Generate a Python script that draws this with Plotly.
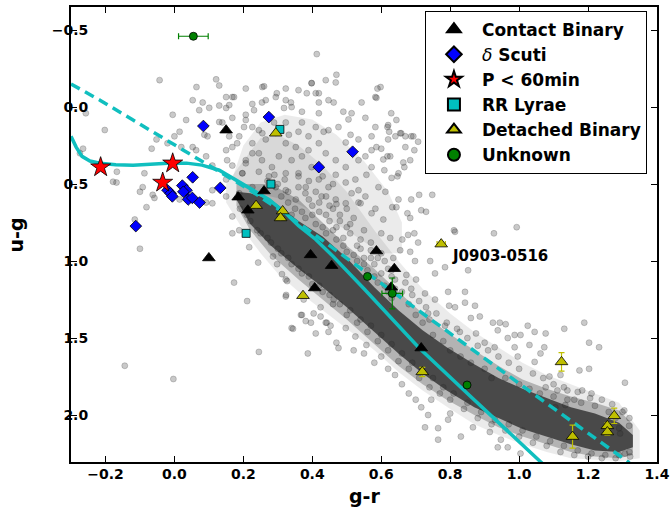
import plotly.graph_objects as go

# ---------------- background field objects ----------------
field_left = [(0.413,-0.344),(-0.043,-0.175),(0.121,-0.18),(0.064,-0.13),(0.207,-0.12),(0.255,-0.13),
    (0.053,-0.045),(0.082,-0.03),(0.101,0.005),(0.15,-0.065),(0.168,-0.065),(0.13,-0.01),(0.159,-0.013),
    (0.072,0.02),(-0.202,0.149),(-0.257,0.04),(-0.274,0.30),(-0.265,0.27),(-0.167,0.42),(-0.178,0.485),
    (-0.168,0.49),(-0.087,0.43),(-0.066,0.27),(-0.052,0.21),(-0.02,0.235),(0.0,0.19),(0.015,0.16),
    (0.02,0.26),(0.053,0.26),(0.087,0.18),(0.092,0.32),(0.063,0.28),(-0.092,0.52),(-0.10,0.55),
    (-0.058,0.59),(-0.081,0.65),(-0.063,0.57),(0.015,0.60),(0.092,0.62),(0.11,0.625),(0.11,0.54),
    (0.15,0.58),(0.11,0.38),(0.168,0.38),(0.197,0.43),(0.15,0.47),(0.168,0.71),(0.188,0.80),(0.168,0.82),
    (0.217,0.91),(-0.10,0.92),(-0.115,0.73),(0.13,0.097),(0.096,0.19),(0.034,0.084),(-0.005,0.05),
    (0.207,0.084),(0.226,-0.02),(0.265,-0.045),(0.294,-0.065),(0.323,-0.045),(0.34,0.0),(0.36,-0.11),
    (0.398,-0.156),(0.419,-0.09),(0.447,-0.045),(0.439,-0.175),(0.188,0.19),(0.226,0.235),(0.245,0.30),
    (0.168,0.26),(0.207,0.345),(0.255,0.17),(0.226,0.13)]

field_lowleft = [(-0.144,1.68),(-0.003,1.766),(0.245,1.59),(0.387,1.60),(0.173,1.14),(0.211,1.26),
    (0.243,1.01),(0.344,1.44),(0.37,1.35),(0.381,1.39),(0.324,1.22),(0.327,1.13),(0.312,1.085),
    (0.298,1.02),(0.286,0.97),(0.404,1.34),(0.424,1.36),(0.442,1.40),(0.453,1.42),(0.323,1.12),
    (0.34,1.435),(0.367,1.35),(0.396,1.40),(0.424,1.30),(0.439,1.40),(0.41,1.47),(0.47,1.53),
    (0.476,1.565),(0.525,1.49),(0.462,1.25),(0.375,1.25),(0.323,1.23),(0.447,1.46),(0.497,1.435),
    (0.557,1.545),(0.60,1.62),(0.62,1.70),(0.58,1.66),(0.66,1.80),(0.64,1.74),(0.55,1.60),(0.52,1.58),
    (0.68,1.86),(0.70,1.90)]

field_upright = [(0.589,-0.12),(0.586,-0.06),(0.618,0.13),(0.623,0.16),(0.658,0.17),(0.687,0.19),
    (0.644,0.084),(0.696,0.28),(0.586,0.26),(0.618,0.32),(0.667,0.39),(0.609,0.41),(0.647,0.45),
    (0.71,0.57),(0.748,0.57),(0.687,0.60),(0.716,0.67),(0.811,0.80),(0.927,0.82),(0.993,0.78),
    (0.676,0.69),(0.632,0.65),(0.572,0.69),(0.696,0.82),(0.661,0.86),(0.678,0.83),(0.707,0.88),
    (0.698,1.0),(0.742,1.0),(0.756,1.08),(0.785,1.04),(0.814,0.81),(0.794,1.20),(0.843,1.20),
    (0.852,1.06),(0.727,1.21),(0.756,1.25),(0.814,1.30),(0.86,1.37),(0.736,1.34),(0.785,1.42),
    (0.828,1.46),(0.687,1.18),(0.684,0.72),(0.644,0.65),(0.606,0.73),(0.626,0.85),(0.655,0.93),
    (0.635,0.98),(0.684,0.94),(0.701,1.12),(0.673,1.09),(0.73,0.68),(0.54,0.625),(0.583,0.66)]

field_right = [(0.797,1.29),(0.843,1.27),(0.872,1.29),(0.886,1.36),(0.924,1.40),(0.944,1.40),
    (0.961,1.41),(0.938,1.45),(0.987,1.48),(1.004,1.48),(1.077,1.47),(1.131,1.44),(1.189,1.40),
    (1.203,1.53),(1.232,1.56),(1.03,1.545),(1.073,1.56),(0.987,1.56),(0.967,1.50),(0.929,1.56),
    (0.996,1.62),(1.045,1.655),(1.062,1.60),(1.088,1.75),(1.077,1.82),(1.111,1.84),(1.14,1.84),
    (1.12,1.74),(1.175,1.71),(1.203,1.70),(1.183,1.84),(1.206,1.89),(1.307,1.79),(1.305,1.97),
    (1.319,2.07),(1.29,2.085),(1.293,2.12),(1.322,2.27),(1.307,2.25),(1.134,1.935),(1.16,1.90),
    (1.105,1.95),(1.025,1.42),(1.045,1.46),(0.875,1.47),(0.90,1.53)]

field_below = [(0.727,2.08),(0.765,2.085),(0.794,2.03),(0.831,2.14),(0.80,1.99),(0.866,2.08),
    (0.915,2.11),(0.947,2.16),(0.967,2.21),(0.938,2.21),(1.004,2.25),(0.765,2.16),(0.736,2.0),
    (0.716,1.95),(0.745,1.90)]

field_cloud = [(0.13,-0.14),(0.47,-0.21),(0.468,-0.16),(0.598,-0.13),(0.583,-0.065),(0.398,-0.155),
    (0.323,-0.12),(0.26,-0.135),(0.173,-0.065),(0.254,-0.03),(0.297,-0.09),(0.384,-0.09),
    (0.41,-0.09),(0.419,-0.03),(0.462,-0.03),(0.49,0.03),(0.514,0.04),(0.554,0.07),(0.62,0.117),
    (0.655,0.17),(0.67,0.19),(0.693,0.19),(0.641,0.19),(0.60,0.27),(0.572,0.28),(0.626,0.32),
    (0.606,0.34),(0.65,0.43),(0.664,0.36),(0.63,0.46),(0.572,0.39),(0.557,0.44),(0.592,0.52),
    (0.612,0.55),(0.65,0.60),(0.525,0.47),(0.534,0.54),(0.554,0.58),(0.511,0.18),(0.497,0.23),
    (0.534,0.21),(0.476,0.13),(0.447,0.15),(0.505,0.08),(0.419,0.04),(0.37,0.03),(0.338,-0.03),
    (0.318,0.006),(0.231,0.02),(0.207,0.05),(0.168,0.07),(0.15,0.006),(0.139,0.10),(0.159,0.19),
    (0.15,0.28),(0.153,0.345),(0.182,0.235),(0.202,0.13),(0.245,0.15),(0.265,0.21),(0.226,0.30),
    (0.207,0.365),(0.197,0.43),(0.245,0.42),(0.289,0.10),(0.323,0.10),(0.332,0.18),(0.36,0.16),
    (0.389,0.19),(0.419,0.235),(0.439,0.30),(0.468,0.345),(0.497,0.39),(0.468,0.44),(0.497,0.49),
    (0.514,0.56),(0.534,0.62),(0.37,0.32),(0.352,0.26),(0.323,0.235),(0.303,0.32),(0.283,0.39),
    (0.323,0.43),(0.36,0.43),(0.381,0.52),(0.398,0.39),(0.419,0.47),(0.447,0.52),(0.427,0.58),
    (0.468,0.60),(0.497,0.625),(0.352,0.60),(0.323,0.54),(0.294,0.52),(0.274,0.45),(0.254,0.345),
    (0.226,0.52),(0.188,0.56),(0.34,0.345),(0.389,0.28),(0.41,0.13),(0.433,0.16),(0.37,0.10),
    (0.554,0.32),(0.534,0.345),(0.572,0.19),(0.62,0.21),(0.583,0.13),(0.629,0.04),(0.543,-0.03),
    (0.67,0.26),(0.684,0.345),(0.707,0.225)]

field_between = [(0.31,0.58),(0.33,0.62),(0.35,0.66),(0.34,0.70),(0.37,0.68),(0.38,0.72),(0.40,0.70),
    (0.41,0.76),(0.43,0.78),(0.44,0.82),(0.46,0.80),(0.47,0.86),(0.49,0.90),(0.50,0.94),(0.52,0.96),
    (0.53,1.00),(0.55,1.02),(0.56,1.06),(0.58,1.10),(0.59,1.14),(0.61,1.16),(0.62,1.20),(0.64,1.18),
    (0.40,0.64),(0.42,0.68),(0.45,0.64),(0.48,0.74),(0.51,0.76),(0.54,0.92),(0.57,0.98),(0.60,1.08),
    (0.63,1.10),(0.38,0.56),(0.41,0.55),(0.44,0.58),(0.47,0.63),(0.50,0.66),(0.36,0.45),(0.39,0.48),
    (0.43,0.45),(0.46,0.50),(0.32,0.47),(0.29,0.44),(0.27,0.48)]

field_edges = [(0.48,0.70),(0.50,0.78),(0.52,0.72),(0.55,0.80),(0.57,0.88),(0.53,0.90),(0.60,0.95),
    (0.58,1.02),(0.62,1.05),(0.64,1.12),(0.60,0.82),(0.46,0.66),(0.44,0.70),(0.49,0.85),(0.55,0.98),
    (0.66,1.20),(0.68,1.28),(0.63,1.24),(0.70,1.35),(0.72,1.40),(0.75,1.48),(0.78,1.52),(0.74,1.38),
    (0.80,1.58),(0.83,1.62),(0.86,1.66),(0.90,1.70),(0.92,1.76),(0.96,1.76),(1.00,1.80),(1.03,1.83),
    (1.06,1.86),(1.10,1.88),(1.14,1.90),(1.18,1.92),(1.22,1.94),(1.26,1.98),(1.28,2.02),
    (0.22,0.74),(0.25,0.82),(0.28,0.88),(0.31,0.95),(0.34,1.02),(0.37,1.08),(0.40,1.15),(0.43,1.20),
    (0.46,1.28),(0.50,1.35),(0.53,1.40),(0.56,1.46),(0.59,1.52),(0.62,1.58),(0.65,1.65),(0.68,1.70),
    (0.71,1.76),(0.74,1.82),(0.77,1.86),(0.80,1.90),(0.84,1.96),(0.88,2.02),(0.92,2.06),(0.96,2.10),
    (1.00,2.14),(1.04,2.18),(1.08,2.20),(1.12,2.24),(1.16,2.26),(1.20,2.27),(1.24,2.28),(1.28,2.28)]

field_band_upper = [(0.30,0.50),(0.33,0.55),(0.36,0.52),(0.39,0.60),(0.42,0.62),(0.45,0.74),(0.47,0.78),
    (0.51,0.82),(0.54,0.86),(0.57,0.93),(0.59,0.98),(0.61,1.00),(0.63,1.06),(0.67,1.14),(0.69,1.22),
    (0.71,1.26),(0.73,1.30),(0.76,1.34),(0.79,1.40),(0.82,1.44),(0.85,1.50),(0.88,1.55),(0.91,1.58),
    (0.94,1.62),(0.97,1.66),(1.00,1.70),(1.04,1.73),(1.07,1.76),(1.10,1.80),(1.13,1.82),(1.17,1.85),
    (1.21,1.86),(1.24,1.90),(1.27,1.93),(1.30,1.98),(1.32,2.02)]

field_band_lower = [(0.19,0.66),(0.21,0.70),(0.24,0.80),(0.27,0.85),(0.30,0.92),(0.33,0.98),(0.36,1.05),
    (0.39,1.10),(0.42,1.16),(0.45,1.22),(0.48,1.28),(0.51,1.32),(0.54,1.38),(0.57,1.42),(0.60,1.48),
    (0.63,1.54),(0.66,1.60),(0.69,1.66),(0.72,1.72),(0.75,1.76),(0.78,1.82),(0.81,1.86),(0.85,1.92),
    (0.89,1.98),(0.93,2.03),(0.97,2.06),(1.01,2.10),(1.05,2.14),(1.09,2.17),(1.13,2.20),(1.17,2.23),
    (1.21,2.25),(1.25,2.26),(1.29,2.26),(1.32,2.24)]

# dense stellar locus: colour limits of the crowded band (density levels)
core_x   = [0.18, 0.22, 0.28, 0.36, 0.43, 0.50, 0.58, 0.65, 0.72, 0.79, 0.87, 0.94, 1.01, 1.08, 1.15, 1.22, 1.29, 1.33]
core_top = [0.55, 0.56, 0.60, 0.74, 0.84, 0.98, 1.17, 1.32, 1.45, 1.56, 1.67, 1.76, 1.83, 1.89, 1.95, 1.99, 2.05, 2.13]
core_bot = [0.60, 0.76, 0.90, 1.05, 1.17, 1.30, 1.46, 1.60, 1.73, 1.84, 1.95, 2.02, 2.09, 2.14, 2.19, 2.23, 2.24, 2.21]

mid_top  = [0.50, 0.50, 0.50, 0.60, 0.75, 0.90, 1.05, 1.20, 1.34, 1.46, 1.58, 1.68, 1.77, 1.83, 1.88, 1.92, 1.97, 2.06]
mid_bot  = [0.64, 0.80, 0.96, 1.12, 1.25, 1.38, 1.54, 1.68, 1.80, 1.90, 2.00, 2.08, 2.14, 2.19, 2.24, 2.27, 2.28, 2.26]

halo_x   = [0.15, 0.20, 0.25, 0.30, 0.36, 0.43, 0.50, 0.58, 0.65, 0.72, 0.80, 0.87, 0.94, 1.01, 1.08, 1.15, 1.22, 1.29, 1.35]
halo_top = [0.50, 0.35, 0.20, 0.18, 0.25, 0.38, 0.55, 0.80, 1.00, 1.18, 1.34, 1.46, 1.56, 1.66, 1.74, 1.80, 1.86, 1.92, 2.10]
halo_bot = [0.62, 0.80, 0.95, 1.08, 1.20, 1.32, 1.44, 1.58, 1.72, 1.84, 1.96, 2.06, 2.13, 2.19, 2.24, 2.28, 2.29, 2.30, 2.28]

# crowded part of the bluer (upper) cloud
cloud_x = [0.17, 0.20, 0.25, 0.32, 0.40, 0.47, 0.55, 0.62, 0.66, 0.66, 0.60, 0.50, 0.42, 0.35, 0.28, 0.22]
cloud_y = [0.45, 0.25, 0.10, 0.05, 0.08, 0.18, 0.35, 0.55, 0.75, 0.95, 0.95, 0.80, 0.70, 0.62, 0.58, 0.55]

# model tracks
solid_x = [-0.30, -0.285, -0.268, -0.245, -0.216, -0.17, -0.12, -0.07, -0.02, 0.035, 0.08, 0.13, 0.188,
           0.237, 0.274, 0.323, 0.36, 0.41, 0.456, 0.55, 0.71, 0.85, 0.95, 1.07]
solid_y = [0.19, 0.26, 0.32, 0.35, 0.365, 0.375, 0.377, 0.37, 0.364, 0.364, 0.377, 0.41, 0.487,
           0.55, 0.60, 0.69, 0.77, 0.86, 0.96, 1.18, 1.565, 1.86, 2.07, 2.32]
dash_x = [-0.30, -0.216, -0.12, -0.023, 0.072, 0.15, 0.22, 0.30, 0.38, 0.554, 0.713, 0.80, 1.04, 1.32]
dash_y = [-0.15, -0.045, 0.084, 0.214, 0.344, 0.45, 0.54, 0.66, 0.785, 1.07, 1.33, 1.47, 1.86, 2.31]

# classified variables
cb_x = [0.15, 0.10, 0.185, 0.213, 0.26, 0.395, 0.456, 0.407, 0.586, 0.638, 0.629, 0.716]
cb_y = [0.15, 0.98, 0.585, 0.67, 0.545, 0.96, 1.03, 1.175, 0.935, 1.05, 1.17, 1.565]

ds_x = [0.084, 0.274, -0.112, 0.053, 0.133, 0.023, 0.035, 0.026, -0.02, -0.011, -0.006, 0.04, 0.052, 0.073, 0.419, 0.517]
ds_y = [0.123, 0.065, 0.773, 0.456, 0.525, 0.51, 0.54, 0.55, 0.54, 0.56, 0.58, 0.60, 0.59, 0.62, 0.39, 0.29]

p60_x = [-0.214, -0.005, -0.034]
p60_y = [0.39, 0.365, 0.49]

rr_x = [0.306, 0.28, 0.208]
rr_y = [0.145, 0.50, 0.82]

db_x  = [0.294, 0.237, 0.314, 0.308, 0.373, 0.774, 0.719, 1.123, 1.155, 1.256, 1.256, 1.276]
db_y  = [0.17, 0.64, 0.675, 0.72, 1.225, 0.89, 1.72, 1.655, 2.14, 2.07, 2.11, 2.005]
db_ex = [0, 0, 0, 0, 0, 0.012, 0, 0, 0, 0, 0, 0]
db_ey = [0, 0, 0, 0, 0, 0, 0.03, 0.06, 0.075, 0.02, 0.02, 0.05]

un_x  = [0.055, 0.56, 0.632, 0.849]
un_y  = [-0.46, 1.10, 1.21, 1.805]
un_ex = [0.043, 0, 0.03, 0]
un_ey = [0.01, 0, 0.10, 0]

label_x, label_y, label_text = 0.80, 0.97, "J0903-0516"

FONT = "DejaVu Sans"
CYAN = "#10bfbf"

fig = go.Figure()

def poly(xs, ys, color):
    fig.add_trace(go.Scatter(x=xs, y=ys, fill="toself", mode="lines", line=dict(width=0),
                             fillcolor=color, hoverinfo="skip", showlegend=False))

poly(halo_x + halo_x[::-1], halo_top + halo_bot[::-1], "rgba(0,0,0,0.08)")
poly(cloud_x, cloud_y, "rgba(0,0,0,0.08)")
poly(core_x + core_x[::-1], mid_top + mid_bot[::-1], "rgba(0,0,0,0.24)")
poly(core_x + core_x[::-1], core_top + core_bot[::-1], "rgba(50,50,50,0.82)")

field = (field_left + field_lowleft + field_upright + field_right + field_below + field_cloud
         + field_between + field_edges + field_band_upper + field_band_lower)
fig.add_trace(go.Scatter(x=[p[0] for p in field], y=[p[1] for p in field], mode="markers",
                         marker=dict(size=6, color="rgba(40,40,40,0.25)",
                                     line=dict(width=0.6, color="rgba(40,40,40,0.35)")),
                         hoverinfo="skip", showlegend=False))

fig.add_trace(go.Scatter(x=solid_x, y=solid_y, mode="lines", line=dict(color=CYAN, width=3.5),
                         showlegend=False, hoverinfo="skip"))
fig.add_trace(go.Scatter(x=dash_x, y=dash_y, mode="lines", line=dict(color=CYAN, width=3.5, dash="10px,6px"),
                         showlegend=False, hoverinfo="skip"))

def add_class(name, xs, ys, symbol, color, size, ex=None, ey=None):
    kw = {}
    if ex is not None:
        kw["error_x"] = dict(type="data", array=ex, color=color, thickness=1.2, width=3)
    if ey is not None:
        kw["error_y"] = dict(type="data", array=ey, color=color, thickness=1.2, width=3)
    fig.add_trace(go.Scatter(x=xs, y=ys, mode="markers", name=name,
                             marker=dict(symbol=symbol, size=size, color=color,
                                         line=dict(width=0.8, color="black")), **kw))

add_class("Contact Binary", cb_x, cb_y, "triangle-up", "black", 11)
add_class("<span style='font-weight:normal'><i>δ</i></span> Scuti", ds_x, ds_y, "diamond", "#0000ff", 9)
add_class("P &lt; 60min", p60_x, p60_y, "star", "#ff0000", 15)
add_class("RR Lyrae", rr_x, rr_y, "square", "#00bfbf", 8)
add_class("Detached Binary", db_x, db_y, "triangle-up", "#bfbf00", 11, db_ex, db_ey)
add_class("Unknown", un_x, un_y, "circle", "#008000", 8, un_ex, un_ey)

fig.add_annotation(x=label_x, y=label_y, text=label_text, showarrow=False, xanchor="left", yanchor="middle",
                   font=dict(family=FONT, size=15, color="black", weight="bold"))

fig.add_annotation(x=0.5, y=-0.075, xref="paper", yref="paper", text="g-r", showarrow=False,
                   xanchor="center", yanchor="middle", font=dict(family=FONT, size=19, color="black", weight="bold"))
fig.add_annotation(x=-0.094, y=0.5, xref="paper", yref="paper", text="u-g", showarrow=False, textangle=-90,
                   xanchor="center", yanchor="middle", font=dict(family=FONT, size=19, color="black", weight="bold"))

axis_common = dict(showgrid=False, zeroline=False, showline=True, linecolor="black", linewidth=2,
                   mirror="allticks", ticks="inside", ticklen=6, tickwidth=1, tickcolor="black",
                   automargin=False,
                   tickfont=dict(family=FONT, size=14, color="black", weight="bold"))

fig.update_xaxes(range=[-0.3, 1.4], tickvals=[-0.2, 0.0, 0.2, 0.4, 0.6, 0.8, 1.0, 1.2, 1.4],
                 tickformat=".1f", ticklabelstandoff=-2, **axis_common)
fig.update_yaxes(range=[2.305, -0.65], tickvals=[-0.5, 0.0, 0.5, 1.0, 1.5, 2.0],
                 tickformat=".1f", ticklabelstandoff=-22, **axis_common)

fig.update_layout(width=672, height=508, margin=dict(l=71, r=15, t=7, b=46, autoexpand=False),
                  paper_bgcolor="white", plot_bgcolor="white",
                  font=dict(family=FONT, color="black"),
                  legend=dict(x=0.604, y=0.992, xanchor="left", yanchor="top", bgcolor="white",
                              bordercolor="black", borderwidth=1, itemwidth=46,
                              font=dict(family=FONT, size=17, color="black", weight="bold"),
                              tracegroupgap=0, itemsizing="constant"))

fig.write_html("out.html", config={"displayModeBar": False},
               post_script="document.body.style.margin='0px';")
